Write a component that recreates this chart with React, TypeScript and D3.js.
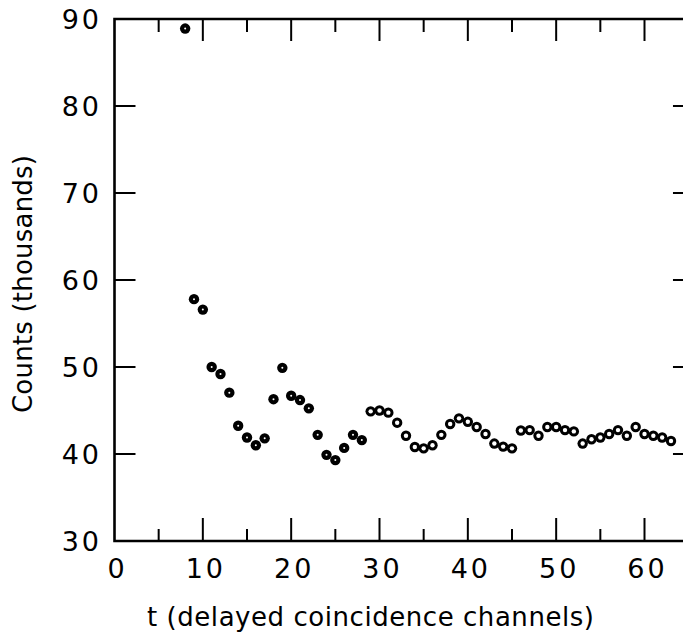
import React from 'react';
import * as d3 from 'd3';

const CHANNELS = [8, 9, 10, 11, 12, 13, 14, 15, 16, 17, 18, 19, 20, 21, 22, 23, 24, 25, 26, 27, 28, 29, 30, 31, 32, 33, 34, 35, 36, 37, 38, 39, 40, 41, 42, 43, 44, 45, 46, 47, 48, 49, 50, 51, 52, 53, 54, 55, 56, 57, 58, 59, 60, 61, 62, 63];
const COUNTS = [88.9, 57.8, 56.6, 50.0, 49.2, 47.05, 43.25, 41.9, 41.0, 41.8, 46.3, 49.9, 46.7, 46.2, 45.25, 42.2, 39.9, 39.3, 40.7, 42.2, 41.6, 44.9, 45.0, 44.75, 43.6, 42.1, 40.8, 40.65, 41.0, 42.2, 43.45, 44.1, 43.7, 43.1, 42.3, 41.2, 40.85, 40.65, 42.7, 42.75, 42.1, 43.1, 43.1, 42.75, 42.6, 41.2, 41.7, 41.9, 42.3, 42.75, 42.1, 43.1, 42.3, 42.1, 41.9, 41.5];
const X_MAJOR = [0, 10, 20, 30, 40, 50, 60];
const X_MINOR = [5, 15, 25, 35, 45, 55, 65];
const Y_TICKS = [30, 40, 50, 60, 70, 80, 90];
const X_TITLE = 't (delayed coincidence channels)';
const Y_TITLE = 'Counts (thousands)';

const W = 683;
const H = 639;
const X_END = 65.6;

export default function App() {
  const x = d3.scaleLinear().domain([0, 60]).range([114.5, 644.5]);
  const y = d3.scaleLinear().domain([30, 90]).range([541, 19]);
  const left = x(0);
  const right = x(X_END);
  const top = y(90);
  const bottom = y(30);
  const font = '"DejaVu Sans", "Liberation Sans", sans-serif';
  const points = CHANNELS.map((c, i) => ({ c, v: COUNTS[i] }));

  return (
    <svg width={W} height={H} style={{ position: 'absolute', left: 0, top: 0, background: '#fff' }}>
      <rect x={0} y={0} width={W} height={H} fill="#fff" />
      <path d={`M${left},${top}H${right}V${bottom}H${left}Z`} fill="none" stroke="#000" strokeWidth={2.6} />
      {X_MAJOR.filter((t) => t > 0).map((t) => (
        <g key={'xm' + t}>
          <line x1={x(t)} x2={x(t)} y1={bottom} y2={bottom - 23} stroke="#000" strokeWidth={2} />
          <line x1={x(t)} x2={x(t)} y1={top} y2={top + 22} stroke="#000" strokeWidth={2} />
        </g>
      ))}
      {X_MINOR.map((t) => (
        <g key={'xn' + t}>
          <line x1={x(t)} x2={x(t)} y1={bottom} y2={bottom - 12} stroke="#000" strokeWidth={2} />
          <line x1={x(t)} x2={x(t)} y1={top} y2={top + 13} stroke="#000" strokeWidth={2} />
        </g>
      ))}
      {Y_TICKS.filter((t) => t > 30 && t < 90).map((t) => (
        <g key={'y' + t}>
          <line x1={left} x2={left + 21} y1={y(t)} y2={y(t)} stroke="#000" strokeWidth={2} />
          <line x1={right} x2={right - 21} y1={y(t)} y2={y(t)} stroke="#000" strokeWidth={2} />
        </g>
      ))}
      {Y_TICKS.map((t) => (
        <text key={'yl' + t} x={102} y={y(t) + 9.5} textAnchor="end" fontFamily={font} fontSize={27} letterSpacing={3} fill="#000">
          {t}
        </text>
      ))}
      {X_MAJOR.map((t) => (
        <text key={'xl' + t} x={x(t) + 3} y={578} textAnchor="middle" fontFamily={font} fontSize={27} letterSpacing={3} fill="#000">
          {t}
        </text>
      ))}
      <text x={147} y={626} fontFamily={font} fontSize={26} textLength={447} lengthAdjust="spacing" fill="#000">
        {X_TITLE}
      </text>
      <text
        transform={`translate(32,413) rotate(-90)`}
        x={0}
        y={0}
        fontFamily={font}
        fontSize={26}
        textLength={258}
        lengthAdjust="spacing"
        fill="#000"
      >
        {Y_TITLE}
      </text>
      {points.map((p) => (
        <g key={'p' + p.c}>
          <circle cx={x(p.c)} cy={y(p.v)} r={5.2} fill="#000" />
          <circle cx={x(p.c)} cy={y(p.v)} r={p.c >= 29 ? 2.2 : 1.0} fill="#fff" />
        </g>
      ))}
    </svg>
  );
}
